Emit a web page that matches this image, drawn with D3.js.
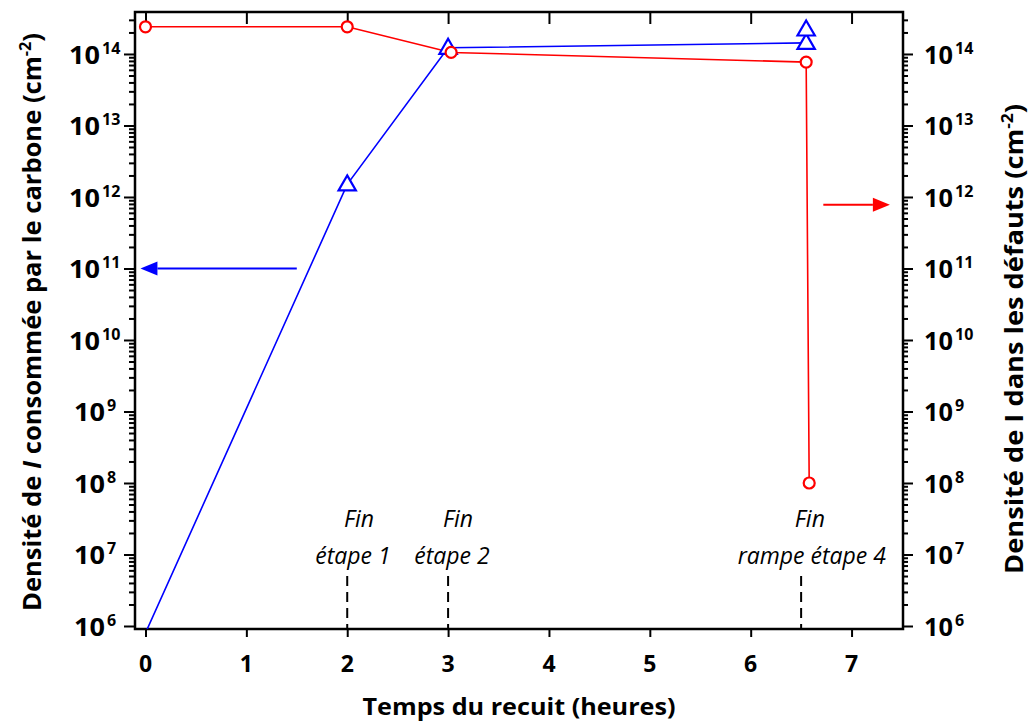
<!DOCTYPE html>
<html><head><meta charset="utf-8">
<script src="https://cdn.jsdelivr.net/npm/d3@7"></script>
<style>
body{margin:0;background:#fff;}
text{font-family:"Open Sans","Noto Sans",sans-serif;}
</style></head>
<body><svg id="c" width="1031" height="726"></svg>
<script>
// ---- data ----
const xTicks = [0,1,2,3,4,5,6,7];
const yTickExps = [6,7,8,9,10,11,12,13,14];
const blueX = [0, 2, 3, 6.55, 6.55];
const blueY = [8e5, 1.5e12, 1.22e14, 1.43e14, 2.2e14];
const redX = [0, 2, 3.03, 6.55, 6.58];
const redY = [2.4e14, 2.4e14, 1.05e14, 7.7e13, 1e8];
const markerX = [2, 3, 6.5];
const markerLine1 = ["Fin","Fin","Fin"];
const markerLine2 = ["étape 1","étape 2","rampe étape 4"];
const line1X = [2.117, 3.098, 6.587];
const line2X = [2.057, 3.039, 6.606];
const blueArrowX = [1.5, -0.05]; const blueArrowY = 1e11;
const redArrowX = [6.72, 7.38]; const redArrowY = 7.8e11;

const svg = d3.select("#c");
const L=135,R=903,T=12,B=629;
const x = d3.scaleLinear().domain([-0.104,7.51]).range([L,R]);
const y = d3.scaleLog().domain([Math.pow(10,5.958),Math.pow(10,14.587)]).range([B,T]);

svg.append("defs").append("clipPath").attr("id","clip").append("rect")
  .attr("x",L).attr("y",T).attr("width",R-L).attr("height",B-T);

const minor=[];
for(let e=5;e<=14;e++) for(let m=2;m<=9;m++){const v=m*Math.pow(10,e); if(v>=y.domain()[0]&&v<=y.domain()[1]) minor.push(v);}
const major = yTickExps.map(e=>Math.pow(10,e));

const gl = svg.append("g").attr("transform",`translate(${L},0)`);
gl.call(d3.axisLeft(y).tickValues(minor).tickSize(6).tickFormat(""));
gl.append("g").call(d3.axisLeft(y).tickValues(major).tickSize(11).tickFormat(""));
const gr = svg.append("g").attr("transform",`translate(${R},0)`);
gr.call(d3.axisRight(y).tickValues(minor).tickSize(5).tickFormat(""));
gr.append("g").call(d3.axisRight(y).tickValues(major).tickSize(10).tickFormat(""));
svg.append("g").attr("transform",`translate(0,${B})`).call(d3.axisBottom(x).tickValues(xTicks).tickSize(8).tickFormat(""));
svg.append("g").attr("transform",`translate(0,${T})`).call(d3.axisBottom(x).tickValues(xTicks).tickSize(12).tickFormat(""));
svg.selectAll(".domain").remove();
svg.selectAll(".tick line").attr("stroke","#000").attr("stroke-width",2);
svg.append("rect").attr("x",L).attr("y",T).attr("width",R-L).attr("height",B-T)
  .attr("fill","none").attr("stroke","#000").attr("stroke-width",2.5);

// y tick labels: base "10" + superscript exponent
function powLabel(xBase,baseW,xSup,yy,exp){
  svg.append("text").attr("x",xBase).attr("y",yy+10)
    .attr("font-weight","bold").attr("font-size",25)
    .attr("textLength",baseW).attr("lengthAdjust","spacingAndGlyphs").text("10");
  svg.append("text").attr("x",xSup).attr("y",yy)
    .attr("font-weight","bold").attr("font-size",16).text(exp);
}
yTickExps.forEach(e=>{
  const yy=y(Math.pow(10,e));
  const two = String(e).length===2;
  const baseEnd = two ? 101 : 106;
  powLabel(baseEnd-32, 31, baseEnd+1, yy, e);
  powLabel(924, 29, 955, yy, e);
});
xTicks.forEach(v=>{
  svg.append("text").attr("x",x(v)).attr("y",672).attr("text-anchor","middle")
   .attr("font-weight","bold").attr("font-size",23).text(v);
});

// titles
svg.append("text").attr("x",519).attr("y",715).attr("text-anchor","middle")
  .attr("font-weight","bold").attr("font-size",24)
  .attr("textLength",313).attr("lengthAdjust","spacingAndGlyphs").text("Temps du recuit (heures)");
const lt = svg.append("text").attr("transform","translate(41,322) rotate(-90)")
  .attr("text-anchor","middle").attr("font-weight","bold").attr("font-size",25)
  .attr("textLength",578).attr("lengthAdjust","spacingAndGlyphs");
lt.append("tspan").text("Densité de ");
lt.append("tspan").attr("font-style","italic").text("I");
lt.append("tspan").text(" consommée par le carbone (cm");
lt.append("tspan").attr("dy",-10).attr("font-size",16).text("-2");
lt.append("tspan").attr("dy",10).text(")");
const rt = svg.append("text").attr("transform","translate(1023,339) rotate(-90)")
  .attr("text-anchor","middle").attr("font-weight","bold").attr("font-size",25)
  .attr("textLength",470).attr("lengthAdjust","spacingAndGlyphs");
rt.append("tspan").text("Densité de I dans les défauts (cm");
rt.append("tspan").attr("dy",-10).attr("font-size",16).text("-2");
rt.append("tspan").attr("dy",10).text(")");

// dashed markers and annotations
markerX.forEach((v,i)=>{
  svg.append("line").attr("x1",x(v)).attr("x2",x(v)).attr("y1",576).attr("y2",B)
   .attr("stroke","#000").attr("stroke-width",2).attr("stroke-dasharray","10,6");
  svg.append("text").attr("x",x(line1X[i])).attr("y",527).attr("text-anchor","middle")
   .attr("font-style","italic").attr("font-size",23).text(markerLine1[i]);
  svg.append("text").attr("x",x(line2X[i])).attr("y",564).attr("text-anchor","middle")
   .attr("font-style","italic").attr("font-size",23).text(markerLine2[i]);
});

// series
const line = d3.line().x(d=>x(d[0])).y(d=>y(d[1]));
const blue = blueX.map((v,i)=>[v,blueY[i]]);
const red = redX.map((v,i)=>[v,redY[i]]);
const plot = svg.append("g").attr("clip-path","url(#clip)");
plot.append("path").datum(blue.slice(0,4)).attr("d",line).attr("fill","none").attr("stroke","#0000ff").attr("stroke-width",1.6);
plot.append("path").datum(red).attr("d",line).attr("fill","none").attr("stroke","#ff0000").attr("stroke-width",1.6);
const inRange = d=>d[1]>=y.domain()[0];
const tri = d3.symbol().type(d3.symbolTriangle).size(130);
plot.selectAll(".tri").data(blue.filter(inRange)).enter().append("path")
  .attr("transform",d=>`translate(${x(d[0])},${y(d[1])+1})`).attr("d",tri)
  .attr("fill","#fff").attr("stroke","#0000ff").attr("stroke-width",2.2);
plot.selectAll(".circ").data(red.filter(inRange)).enter().append("circle")
  .attr("cx",d=>x(d[0])).attr("cy",d=>y(d[1])).attr("r",5.5)
  .attr("fill","#fff").attr("stroke","#ff0000").attr("stroke-width",2.2);

// arrows
function arrow(x1,x2,yy,col){
  const X1=x(x1),X2=x(x2),Y=y(yy),dir=Math.sign(X2-X1),hl=17,hw=7;
  svg.append("line").attr("x1",X1).attr("x2",X2-dir*hl).attr("y1",Y).attr("y2",Y)
    .attr("stroke",col).attr("stroke-width",2);
  svg.append("path").attr("d",`M${X2},${Y}L${X2-dir*hl},${Y-hw}L${X2-dir*hl},${Y+hw}Z`).attr("fill",col);
}
arrow(blueArrowX[0],blueArrowX[1],blueArrowY,"#0000ff");
arrow(redArrowX[0],redArrowX[1],redArrowY,"#ff0000");
</script></body></html>
